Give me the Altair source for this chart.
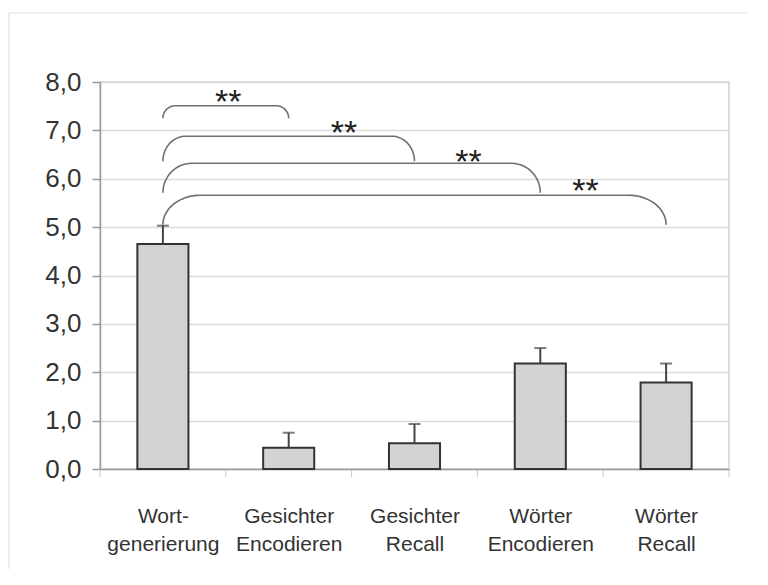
import altair as alt
import numpy as np
import pandas as pd

# ---- data ----
label_lines = [["Wort-", "generierung"], ["Gesichter", "Encodieren"], ["Gesichter", "Recall"],
               ["Wörter", "Encodieren"], ["Wörter", "Recall"]]
means = [4.65, 0.44, 0.53, 2.18, 1.79]
errors = [0.38, 0.31, 0.40, 0.32, 0.39]

# significance brackets: from category 0 to category `bracket_to`
bracket_to = [1, 2, 3, 4]
bracket_top = [7.51, 6.88, 6.32, 5.66]
bracket_bottom = [7.25, 6.36, 5.71, 5.05]
bracket_corner = [0.10, 0.18, 0.23, 0.30]
star_x = [0.52, 1.44, 2.43, 3.36]
star_y = [7.75, 7.11, 6.51, 5.91]
star_text = ["**", "**", "**", "**"]

FONT = "Liberation Sans, Arial, sans-serif"

idx = list(range(len(means)))
bars = pd.DataFrame({
    "i": idx,
    "x1": [i - 0.203 for i in idx],
    "x2": [i + 0.203 for i in idx],
    "mean": means,
    "top": [m + e for m, e in zip(means, errors)],
})

# bracket outlines
rows = []
for b, (k, yt, yb, w) in enumerate(zip(bracket_to, bracket_top, bracket_bottom, bracket_corner)):
    h = yt - yb
    seq = 0
    for t in np.linspace(np.pi, np.pi / 2, 16):
        rows.append({"b": b, "s": seq, "x": 0 + w + w * np.cos(t), "y": yb + h * np.sin(t)}); seq += 1
    for t in np.linspace(np.pi / 2, 0, 16):
        rows.append({"b": b, "s": seq, "x": k - w + w * np.cos(t), "y": yb + h * np.sin(t)}); seq += 1
brackets = pd.DataFrame(rows)
stars = pd.DataFrame({"x": star_x, "y": star_y, "t": star_text})
boundaries = pd.DataFrame({"x": [-0.5 + i for i in range(len(means) + 1)]})

label_expr = "[" + ",".join("[" + ",".join("'" + s + "'" for s in l) + "]" for l in label_lines) + "][datum.value]"

xs = alt.Scale(domain=[-0.5, len(means) - 0.5], nice=False, zero=False)
ys = alt.Scale(domain=[0, 8], nice=False, zero=True)

base = alt.Chart(bars)

bar_layer = base.mark_bar(color="#d3d3d3", stroke="#333333", strokeWidth=2).encode(
    x=alt.X("x1:Q", scale=xs, axis=alt.Axis(
        values=idx, labelExpr=label_expr, ticks=False, grid=False, title=None,
        labelFont=FONT, labelFontSize=21, labelColor="#333333", labelLineHeight=28,
        labelPadding=53, domainColor="#9a9a9a", domainWidth=1.5, labelBaseline="alphabetic")),
    x2="x2:Q",
    y=alt.Y("mean:Q", scale=ys, axis=alt.Axis(
        values=list(range(9)), labelExpr="replace(format(datum.value, '.1f'), '.', ',')",
        title=None, grid=True, gridColor="#dcdcdc", gridWidth=1.5,
        tickColor="#9a9a9a", tickSize=8, tickWidth=1.5, domainColor="#9a9a9a", domainWidth=1.5,
        labelFont=FONT, labelFontSize=26, labelColor="#333333", labelPadding=11)),
    y2=alt.value(387),
)

err_rule = base.mark_rule(color="#444444", strokeWidth=2).encode(
    x="i:Q", y="mean:Q", y2="top:Q")
err_cap = base.mark_tick(color="#444444", thickness=2, size=12, orient="horizontal").encode(
    x="i:Q", y="top:Q")

bound_ticks = alt.Chart(boundaries).mark_rule(color="#c8c8c8", strokeWidth=1).encode(
    x=alt.X("x:Q", scale=xs), y=alt.value(388), y2=alt.value(395))

bracket_layer = alt.Chart(brackets).mark_line(color="#707070", strokeWidth=1.6).encode(
    x=alt.X("x:Q", scale=xs), y=alt.Y("y:Q", scale=ys), detail="b:N", order="s:Q")

star_layer = alt.Chart(stars).mark_text(font=FONT, fontSize=34,
                                        color="#222222", dy=9).encode(
    x=alt.X("x:Q", scale=xs), y=alt.Y("y:Q", scale=ys), text="t:N")

# light outer frame (top and left edges only, as in the reference)
frame_top = alt.Chart(boundaries.head(1)).mark_rule(color="#e2e2e2", strokeWidth=1.2).encode(
    x=alt.value(-91), x2=alt.value(668), y=alt.value(-69))
frame_left = alt.Chart(boundaries.head(1)).mark_rule(color="#e2e2e2", strokeWidth=1.2).encode(
    x=alt.value(-91), y=alt.value(-69), y2=alt.value(510))

chart = alt.layer(frame_top, frame_left, bar_layer, bound_ticks, err_rule, err_cap,
                  bracket_layer, star_layer).properties(
    width=629, height=387,
    autosize=alt.AutoSizeParams(type="none"),
    padding={"left": 92, "top": 74, "right": 18, "bottom": 100},
).configure_view(stroke="#d0d0d0", strokeWidth=1.5)

chart.save("out.html", embed_options={"renderer": "svg", "actions": False})
